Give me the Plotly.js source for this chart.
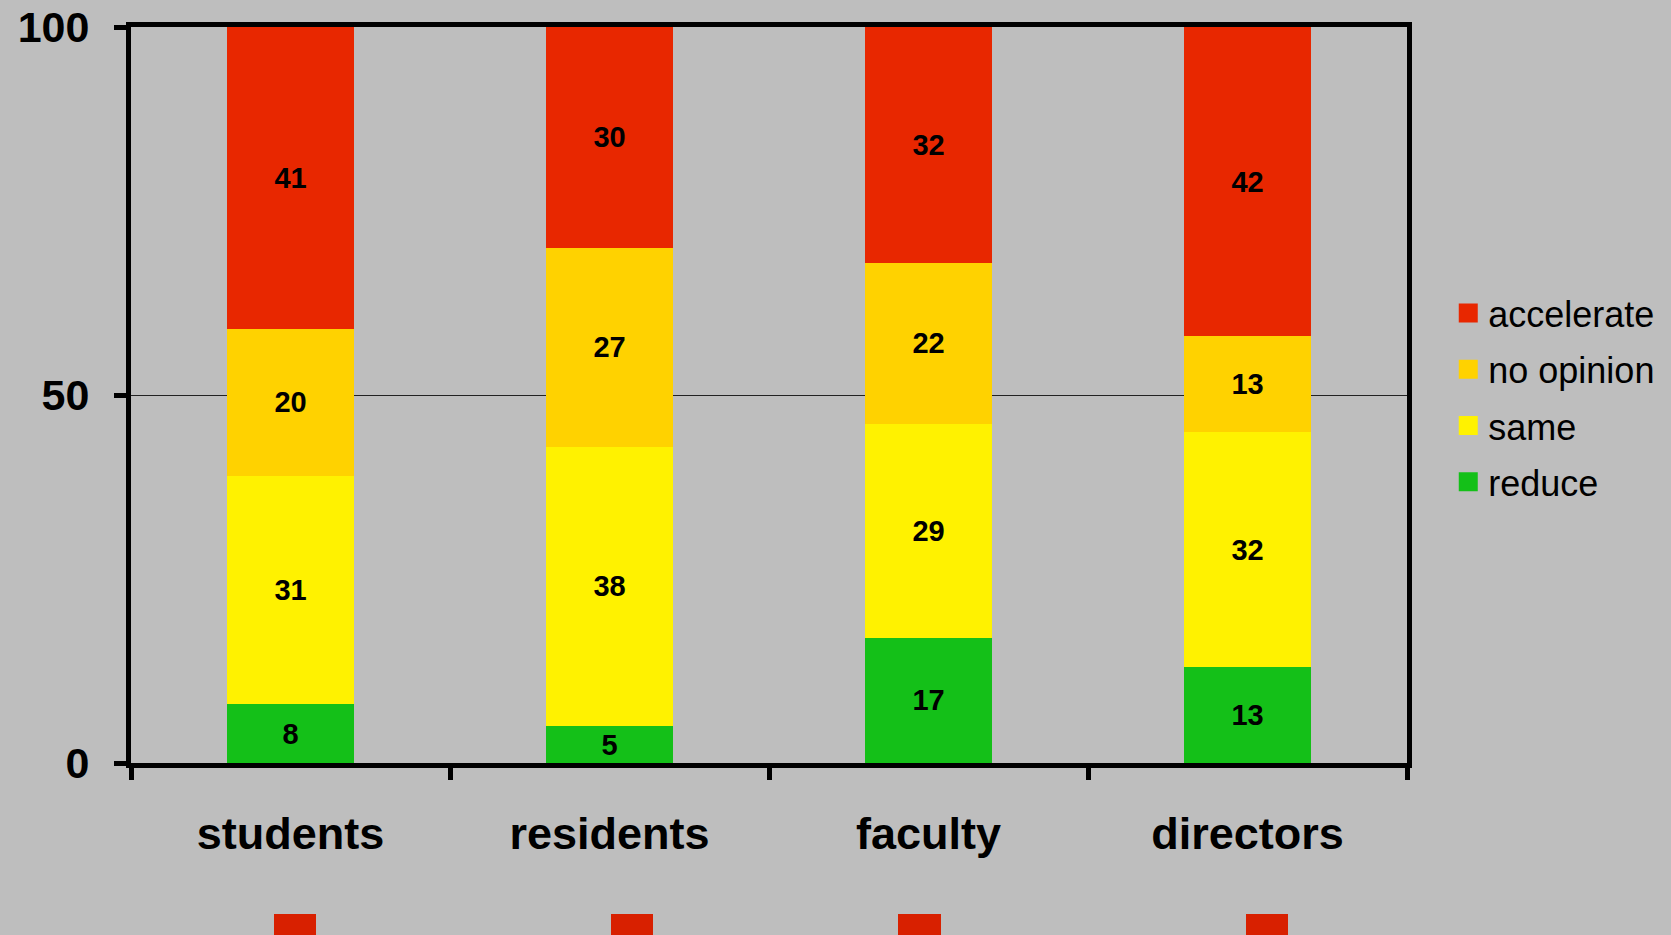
<!DOCTYPE html>
<html>
<head>
<meta charset="utf-8">
<script src="https://cdn.plot.ly/plotly-3.0.1.min.js"></script>
<style>
  html, body { margin: 0; padding: 0; background: #bebebe; }
  #chart { width: 1671px; height: 935px; }
</style>
</head>
<body>
<div id="chart"></div>
<script>
// ---- data ----
const categories = ["students", "residents", "faculty", "directors"];
const reduce     = [8, 5, 17, 13];
const same       = [31, 38, 29, 32];
const noOpinion  = [20, 27, 22, 13];
const accelerate = [41, 30, 32, 42];
const seriesNames = ["reduce", "same", "no opinion", "accelerate"];
const yTickVals = [0, 50, 100];
const yTickText = ["0", "50", "100"];

const seriesValues = [reduce, same, noOpinion, accelerate];
const colors = ["#14c018", "#fff200", "#ffd200", "#e82700"];
const FONT = "Liberation Sans, Arial, sans-serif";

const traces = seriesValues.map((vals, i) => ({
  type: "bar",
  name: seriesNames[i],
  x: categories,
  y: vals,
  text: vals.map(String),
  textposition: "inside",
  insidetextanchor: "middle",
  textangle: 0,
  textfont: { family: FONT, size: 29, color: "#000", weight: "bold" },
  marker: { color: colors[i], line: { width: 0 } },
  width: 0.4,
  legendgroup: "g" + i,
  legendrank: 1000 + (seriesValues.length - i),
  hoverinfo: "none"
}));

// decorative red marks under the chart
const mL = 131, mR = 264, mT = 27, mB = 172;
const plotL = mL, plotR = 1671 - mR, plotB = 935 - mB, plotT = mT;
const pw = plotR - plotL, ph = plotB - plotT;
const markPx = [[274, 316], [611, 653], [898, 941], [1246, 1288]];
const shapes = markPx.map(m => ({
  type: "rect", xref: "paper", yref: "paper",
  x0: (m[0] - plotL) / pw, x1: (m[1] - plotL) / pw,
  y0: (plotB - 914) / ph, y1: (plotB - 960) / ph,
  fillcolor: "#d82000", line: { width: 0 }, layer: "above"
}));

const layout = {
  width: 1671, height: 935,
  paper_bgcolor: "#bebebe",
  plot_bgcolor: "#bebebe",
  margin: { l: mL, r: mR, t: mT, b: mB },
  barmode: "stack",
  showlegend: true,
  uniformtext: { mode: "show", minsize: 29 },
  legend: {
    xref: "container", yref: "container",
    x: 0.8667, xanchor: "left",
    y: 0.6973, yanchor: "top",
    traceorder: "grouped",
    tracegroupgap: 6.5,
    font: { family: FONT, size: 36, color: "#000" },
    bgcolor: "rgba(0,0,0,0)"
  },
  xaxis: {
    type: "category",
    range: [-0.5, 3.5],
    tickson: "boundaries",
    ticks: "outside", ticklen: 12, tickwidth: 5, tickcolor: "#000",
    showline: true, linewidth: 5, linecolor: "#000", mirror: true,
    showgrid: false,
    tickfont: { family: FONT, size: 45, color: "#000", weight: "bold" },
    ticklabelstandoff: 27
  },
  yaxis: {
    range: [0, 100],
    tickvals: yTickVals, ticktext: yTickText,
    ticks: "outside", ticklen: 12, tickwidth: 5, tickcolor: "#000",
    showline: true, linewidth: 5, linecolor: "#000", mirror: true,
    showgrid: true, gridcolor: "#222", gridwidth: 1,
    zeroline: false,
    tickfont: { family: FONT, size: 43, color: "#000", weight: "bold" },
    ticklabelstandoff: 16
  },
  shapes: shapes
};

Plotly.newPlot("chart", traces, layout, { displayModeBar: false, staticPlot: true }).then(gd => {
  gd.querySelectorAll(".legend .legendpoints path").forEach(p => {
    p.setAttribute("d", "M9.5,9.5H-9.5V-9.5H9.5Z");
  });
});
</script>
</body>
</html>
